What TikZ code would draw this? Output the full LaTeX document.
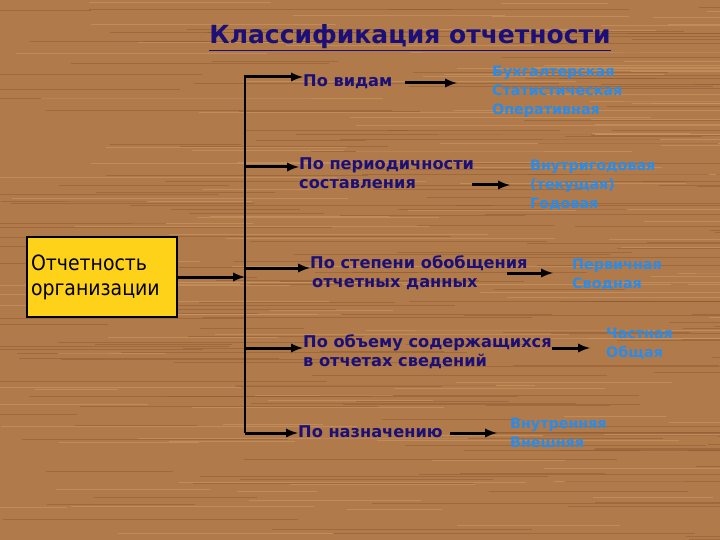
\documentclass[tikz,border=0pt]{standalone}
\usepackage{fontspec}
\setmainfont{DejaVu Sans}
\newfontfamily\cond{DejaVu Sans Condensed}
\definecolor{wood}{HTML}{B07A4A}
\definecolor{woodd}{HTML}{8E5A32}
\definecolor{woodl}{HTML}{C99866}
\definecolor{navy}{HTML}{1C1078}
\definecolor{lblue}{HTML}{2A8CE8}
\definecolor{boxy}{HTML}{FFD21A}
\begin{document}
\begin{tikzpicture}[x=1pt,y=-1pt,
  cat/.style={anchor=north west,font=\bfseries\fontsize{16.2}{19}\selectfont,text=navy,inner sep=0pt,align=left},
  item/.style={anchor=north west,font=\bfseries\fontsize{14.3}{19}\selectfont,text=lblue,inner sep=0pt,align=left},
  arr/.style={line width=3pt,-latex}]
\useasboundingbox (0,0) rectangle (720,540);
\begin{scope}
\clip (0,0) rectangle (720,540);
\fill[wood] (0,0) rectangle (720,540);
\pgfmathsetseed{7}
\foreach \i in {1,...,320}{
  \pgfmathsetmacro\yy{rnd*540}
  \pgfmathsetmacro\xa{rnd*780-60}
  \pgfmathsetmacro\ll{80+rnd*300}
  \pgfmathsetmacro\cc{rnd}
  \ifdim\cc pt<0.6pt
    \draw[woodd,opacity=0.5,line width=0.8pt] (\xa,\yy) -- ++(\ll,0);
  \else
    \draw[woodl,opacity=0.6,line width=0.8pt] (\xa,\yy) -- ++(\ll,0);
  \fi
}
\end{scope}
\node[font=\bfseries\fontsize{25}{29}\selectfont,text=navy,inner sep=0pt] (title) at (410,38) {\underline{Классификация отчетности}};
\node[draw=black,line width=2.5pt,fill=boxy,minimum width=150pt,minimum height=80pt,inner sep=0pt,
  font=\cond\fontsize{21}{25}\selectfont,align=left,text width=142pt] (org) at (102,277) {Отчетность\\организации};
\coordinate (top) at (245,75);
\coordinate (bot) at (245,433);
\draw[line width=2.5pt] (top) -- (bot);
\coordinate (mid) at (245,277);
\draw[arr] (org.east) -- (mid);
% categories
\node[cat] (c1) at (303,74) {По видам};
\node[cat] (c2) at (299,157) {По периодичности\\составления};
\node[cat] (c3) at (310,255) {По степени обобщения\\\hspace{2pt}отчетных данных};
\node[cat] (c4) at (303,334) {По объему содержащихся\\в отчетах сведений};
\node[cat] (c5) at (298,425) {По назначению};
\foreach \c/\y in {c1/77,c2/167,c3/268,c4/348,c5/433}{
  \coordinate (s\c) at (245,\y);
  \draw[arr] (s\c) -- (\c.west |- s\c);
}
% items
\node[item] (i1) at (492,66) {Бухгалтерская\\Статистическая\\Оперативная};
\node[item] (i2) at (530,160) {Внутригодовая\\(текущая)\\Годовая};
\node[item] (i3) at (572,259) {Первичная\\Сводная};
\node[item] (i4) at (606,328) {Частная\\Общая};
\node[item] (i5) at (510,418) {Внутренняя\\Внешняя};
\coordinate (a1) at (405,83); \coordinate (b1) at (457,83);
\coordinate (a2) at (472,185); \coordinate (b2) at (510,185);
\coordinate (a3) at (507,273); \coordinate (b3) at (553,273);
\coordinate (a4) at (552,348); \coordinate (b4) at (590,348);
\coordinate (a5) at (450,433); \coordinate (b5) at (497,433);
\foreach \k in {1,...,5}{\draw[arr] (a\k) -- (b\k);}
\end{tikzpicture}
\end{document}
